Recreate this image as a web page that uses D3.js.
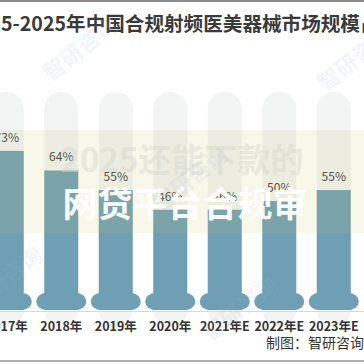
<!DOCTYPE html>
<html><head><meta charset="utf-8">
<script src="https://cdn.jsdelivr.net/npm/d3@7/dist/d3.min.js"></script>
<style>html,body{margin:0;padding:0;background:#fff;overflow:hidden}svg{display:block}</style>
</head><body><svg id="c" width="364" height="364"></svg>
<script>
const categories = ["2017年","2018年","2019年","2020年","2021年E","2022年E","2023年E"];
const shares = [73, 64, 55, 46, 46, 50, 55];
const valueLabels = ["73%","64%","55%","46%","46%","50%","55%"];
const titleText = "2015-2025年中国合规射频医美器械市场规模占比";
const sourceText = "制图：智研咨询";
const overlayLine1 = "2025还能下款的";
const overlayLine2 = "网贷平台合规审";

const svg = d3.select("#c");
const W = 364, H = 364;
const font = "'Noto Sans CJK SC','Noto Sans',sans-serif";

const x = d3.scaleBand().domain(categories).range([-20.5, 361]).paddingInner(0.376).paddingOuter(0.188);
const y = d3.scaleLinear().domain([0, 100]).range([310, 92]);
const bw = x.bandwidth();

// top & bottom frame lines
svg.append("rect").attr("x",0).attr("y",0).attr("width",W).attr("height",2).attr("fill","#8c8c8c");
svg.append("rect").attr("x",0).attr("y",360).attr("width",W).attr("height",2).attr("fill","#b0b0b0");

// background capsules (100%)
svg.append("g").selectAll("rect").data(categories).join("rect")
  .attr("x", d => x(d)).attr("width", bw)
  .attr("y", y(100)).attr("height", y(0) - y(100) + 17)
  .attr("rx", bw/2).attr("fill", "#f3f4f4");

// bars
const barColor = "#6e9fb4";
svg.append("g").selectAll("rect").data(shares).join("rect")
  .attr("x", (d,i) => x(categories[i])).attr("width", bw)
  .attr("y", d => y(d)).attr("height", d => y(0) - y(d))
  .attr("fill", barColor);
// bulbs at base
svg.append("g").selectAll("rect").data(categories).join("rect")
  .attr("x", d => x(d) + bw/2 - 25).attr("width", 50)
  .attr("y", y(0) - 17).attr("height", 17)
  .attr("rx", 10).attr("ry", 8.5).attr("fill", barColor);

// axis line
svg.append("line").attr("x1",0).attr("x2",W).attr("y1",311.5).attr("y2",311.5).attr("stroke","#d9d9d9").attr("stroke-width",1);

// value labels
svg.append("g").selectAll("text").data(shares).join("text")
  .attr("x", (d,i) => x(categories[i]) + bw/2).attr("y", d => y(d) - 9)
  .attr("text-anchor","middle").attr("font-family",font).attr("font-size",12)
  .attr("fill","#404040").text((d,i) => valueLabels[i]);

// x axis labels
const xAxis = d3.axisBottom(x).tickSize(0).tickPadding(0);
const gx = svg.append("g").attr("transform","translate(0,322)").call(xAxis);
gx.select(".domain").remove();
gx.selectAll("text").attr("font-family",font).attr("font-size",12.5).attr("font-weight","bold").attr("fill","#333").attr("dy","0.71em");

// title (clipped at left)
const tSize = 19.6;
const t = svg.append("text").attr("y",31).attr("font-family",font).attr("font-size",tSize).attr("font-weight","bold").attr("fill","#3a3a3a").text(titleText);
const probe = svg.append("text").attr("font-family",font).attr("font-size",tSize).attr("font-weight","bold").text("201");
const off = probe.node().getComputedTextLength(); probe.remove();
t.attr("x", -off + 1);

// source
svg.append("text").attr("x",364).attr("y",348).attr("text-anchor","end").attr("font-family",font).attr("font-size",14).attr("fill","#333").text(sourceText);

// overlay band
svg.append("rect").attr("x",0).attr("y",130).attr("width",W).attr("height",103).attr("fill","#c7c669").attr("opacity",0.14);
svg.append("text").attr("x",182).attr("y",172).attr("text-anchor","middle").attr("font-family",font).attr("font-size",33).attr("font-weight","bold").attr("fill","#d8d8d0").attr("opacity",0.45).text(overlayLine1);
svg.append("text").attr("x",185).attr("y",217).attr("text-anchor","middle").attr("font-family",font).attr("font-size",35).attr("font-weight","bold").attr("fill","#ffffff").attr("opacity",0.95).text(overlayLine2);

// faint watermarks
const wm = [[85,55],[195,185],[245,315],[360,65],[10,285]];
svg.append("g").selectAll("text").data(wm).join("text")
  .attr("transform", d => `translate(${d[0]},${d[1]}) rotate(-38)`)
  .attr("text-anchor","middle").attr("font-family",font).attr("font-size",22).attr("font-weight","bold")
  .attr("fill","#9db4c8").attr("opacity",0.12).text("智研咨询");
</script></body></html>
